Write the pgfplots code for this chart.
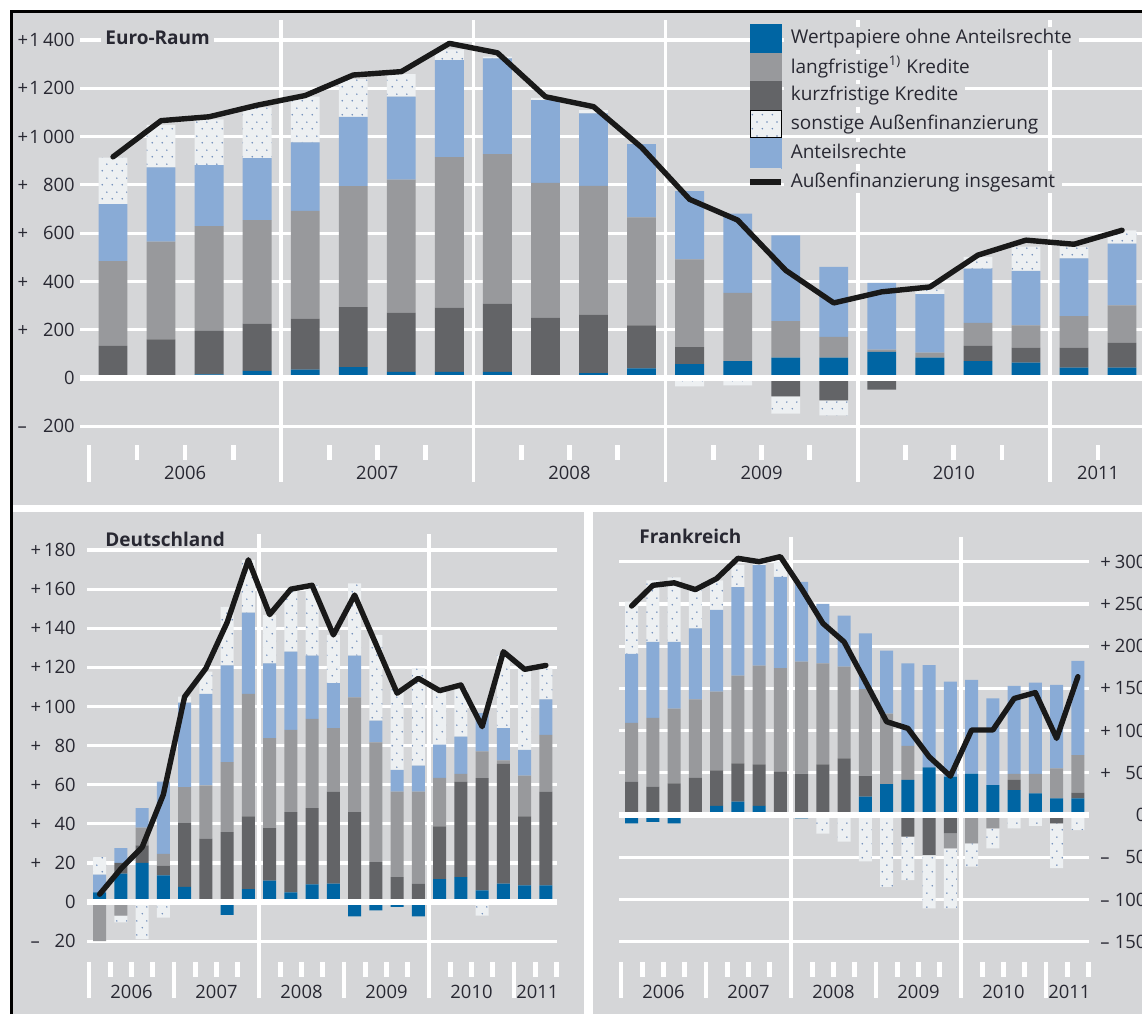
\documentclass[border=0pt]{standalone}
\usepackage{fontspec}
\setmainfont{Open Sans}
\usepackage{pgfplots}
\pgfplotsset{compat=1.18}
\usepackage{pgfplotstable}
\usetikzlibrary{patterns.meta}

\definecolor{bgcol}{RGB}{213,214,216}
\definecolor{wpcol}{RGB}{0,101,163}
\definecolor{lkcol}{RGB}{152,153,156}
\definecolor{kkcol}{RGB}{99,100,103}
\definecolor{arcol}{RGB}{137,171,214}
\definecolor{dotbg}{RGB}{237,240,242}
\definecolor{dotblue}{RGB}{110,140,185}
\definecolor{linecol}{RGB}{25,25,25}
\definecolor{textcol}{RGB}{40,40,50}

\pgfdeclarepattern{
  name=sdots,
  type=uncolored,
  bottom left={\pgfpoint{0pt}{0pt}},
  top right={\pgfpoint{5pt}{7pt}},
  tile size={\pgfpoint{5pt}{7pt}},
  code={
    \pgfpathcircle{\pgfpoint{1.25pt}{1.75pt}}{0.45pt}
    \pgfpathcircle{\pgfpoint{3.75pt}{5.25pt}}{0.45pt}
    \pgfusepath{fill}
  }
}

\newcommand{\tf}{\fontsize{9.2pt}{11pt}\selectfont}
\newcommand{\lf}{\fontsize{9.5pt}{11pt}\selectfont}
\newcommand{\ttf}{\bfseries\fontsize{9.5pt}{11pt}\selectfont}
\newcommand{\lp}[2]{\hbox to #1{+\hfill #2}}
\newcommand{\lm}[2]{\hbox to #1{–\hfill #2}}
\newcommand{\lz}[1]{\hbox to #1{\hfill 0}}

\pgfplotstableread{
q wp kk lk ar so tot
0 0 133 351 236 193 916
1 12 148 405 307 176 1066
2 15 180 434 253 189 1082
3 30 195 429 257 210 1130
4 35 211 446 284 189 1170
5 45 249 501 287 156 1255
6 25 246 551 343 94 1269
7 25 267 623 402 44 1386
8 25 283 619 397 7 1347
9 0 250 558 343 9 1165
10 20 243 533 300 14 1124
11 40 178 447 304 0 955
12 57 71 363 283 -35 740
13 70 0 283 328 -30 654
14 84 -76 152 355 -72 446
15 84 -93 86 290 -62 311
16 108 -48 10 276 0 357
17 84 0 21 242 20 377
18 70 63 95 225 49 509
19 64 62 92 226 100 571
20 43 83 130 239 48 554
21 43 103 155 256 55 612
}\tabEU

\pgfplotstableread{
q wp kk lk ar so tot
0 5 0 -20 9 9 4
1 14.5 5.5 -7 7.6 -3.4 17
2 20 9 9 10 -19 28
3 13.6 5 6 37 -8 55
4 7.7 32.7 18.4 43.2 3 105
5 0 32.4 27.2 46.8 11.4 119.5
6 -6.5 35.8 35.7 49.5 30 143
7 6.6 37.2 62.6 41.6 27 175
8 11 26.8 46 38.2 24.8 147
9 5 41 42 40 31.6 160
10 9 39 45.7 32.3 36 162
11 9.4 47.1 32.5 23 24.6 136.6
12 -7.3 46 58.7 21.3 37 157
13 -4.3 20.4 61.3 11.1 43.8 132
14 -2.5 12.8 43.7 11.1 41.7 106.8
15 -7.3 9.4 47.1 13.3 49.7 114.4
16 11.75 27 24.7 17 28.1 108.1
17 12.8 48.8 4 19 24.4 111
18 6 57.4 13.6 19.6 -7 89.7
19 9.4 61.3 1.7 16.6 37.4 128
20 8.5 35.3 20.9 13.1 42.6 119
21 8.5 48 29 18.2 15.8 121
}\tabDE

\pgfplotstableread{
q wp kk lk ar so tot
0 -10 39.5 69.5 81.7 62 247.5
1 -8 33.6 81.4 90 73 272
2 -10 37.5 88.5 79 76.5 275
3 0 44 93 84 45.5 267
4 10.7 42.3 93 97 35 280
5 15.8 45.2 104 105 26 304
6 10.7 49.3 117 119 4 300
7 0 51 123 108 18 306
8 -4 49 132.6 94.4 0 268
9 0 60 119.6 70.4 -22 227
10 0 67 108.7 60.3 -31.6 205
11 21.7 24.3 103 66 -55 158
12 36.7 0 83.3 74.6 -85 110.5
13 41.5 -25.7 40.5 97.6 -51.3 102.6
14 56.5 -47.4 0 121.1 -63.1 69
15 45.4 -21.7 -17.8 112.6 -71 46
16 49 0 -33.6 111 -27.4 100.7
17 35.5 0 -15.8 102.5 -23.7 100.7
18 29.6 11.9 7.1 104.2 -15.8 138
19 25.7 0 22.9 108.1 -13 145
20 19.7 -10 35.6 98.7 -53 90.8
21 19.7 6.8 44.5 111.4 -17.8 163.8
}\tabFR

\pgfplotsset{
  base/.style={scale only axis, anchor=south west, clip=false,
     axis line style={draw=none}, tick style={draw=none}, xtick=\empty},
  panelEU/.style={base, at={(40pt,-245.01pt)}, width=537.85pt, height=237.57pt,
     xmin=-0.687, xmax=21.7, ymin=-464, ymax=1504},
  panelDE/.style={base, at={(43.5pt,-499.9pt)}, width=234.75pt, height=232.7pt,
     xmin=-0.594, xmax=21.5, ymin=-50, ymax=188},
  panelFR/.style={base, at={(309.5pt,-499.95pt)}, width=234.75pt, height=231.6pt,
     xmin=-0.594, xmax=21.5, ymin=-219, ymax=329.6},
  wpS/.style={fill=wpcol, draw=none},
  kkS/.style={fill=kkcol, draw=none},
  lkS/.style={fill=lkcol, draw=none},
  arS/.style={fill=arcol, draw=none},
  soS/.style={fill=dotbg, draw=none, postaction={pattern=sdots, pattern color=dotblue}},
  gridS/.style={ymajorgrids, major grid style={white, line width=1.6pt}},
  totS/.style={linecol, line width=2.7pt, line join=round, line cap=round, mark=none},
}

\begin{document}
\begin{tikzpicture}
% backgrounds
\fill[white] (0pt,0pt) rectangle (571pt,-507pt);
\fill[bgcol] (6.3pt,-6.3pt) rectangle (571pt,-252.5pt);
\fill[bgcol] (6.3pt,-256pt) rectangle (292.2pt,-507pt);
\fill[bgcol] (296.4pt,-256pt) rectangle (571pt,-507pt);
\draw[black, line width=1.25pt] (5.65pt,-507pt) -- (5.65pt,-5.65pt) -- (571pt,-5.65pt);

%================ EURO-RAUM =================
\begin{axis}[panelEU, gridS, ybar stacked, bar width=0.6,
  ytick={-200,0,...,1400},
  yticklabels={\lm{28.5pt}{200},\lz{28.5pt},\lp{28.5pt}{200},\lp{28.5pt}{400},\lp{28.5pt}{600},\lp{28.5pt}{800},\lp{28.5pt}{1\,000},\lp{28.5pt}{1\,200},\lp{28.5pt}{1\,400}},
  yticklabel style={anchor=east, inner sep=0pt, xshift=-2.5pt, font=\tf, text=textcol},
]
\pgfplotsinvokeforeach{3.5,7.5,11.5,15.5,19.5}{\draw[white,line width=1.75pt] (axis cs:#1,1483) -- (axis cs:#1,-431);}
\draw[white,line width=1.75pt] (axis cs:-0.5,-277.5) -- (axis cs:-0.5,-431);
\pgfplotsinvokeforeach{0.5,1.5,2.5,4.5,5.5,6.5,8.5,9.5,10.5,12.5,13.5,14.5,16.5,17.5,18.5,20.5,21.5}{\draw[white,line width=2.4pt] (axis cs:#1,-277.5) -- (axis cs:#1,-340);}
\node[font=\tf,text=textcol] at (axis cs:1.5,-393.5) {2006};
\node[font=\tf,text=textcol] at (axis cs:5.5,-393.5) {2007};
\node[font=\tf,text=textcol] at (axis cs:9.5,-393.5) {2008};
\node[font=\tf,text=textcol] at (axis cs:13.5,-393.5) {2009};
\node[font=\tf,text=textcol] at (axis cs:17.5,-393.5) {2010};
\node[font=\tf,text=textcol] at (axis cs:20.5,-393.5) {2011};
\addplot[wpS] table[x=q, y expr={max(\thisrow{wp},0)}] {\tabEU};
\addplot[kkS] table[x=q, y expr={max(\thisrow{kk},0)}] {\tabEU};
\addplot[lkS] table[x=q, y expr={max(\thisrow{lk},0)}] {\tabEU};
\addplot[arS] table[x=q, y expr={max(\thisrow{ar},0)}] {\tabEU};
\addplot[soS] table[x=q, y expr={max(\thisrow{so},0)}] {\tabEU};
\end{axis}
\begin{axis}[panelEU, hide axis, ybar stacked, bar width=0.6]
\addplot[wpS] table[x=q, y expr={min(\thisrow{wp},0)}] {\tabEU};
\addplot[kkS] table[x=q, y expr={min(\thisrow{kk},0)}] {\tabEU};
\addplot[lkS] table[x=q, y expr={min(\thisrow{lk},0)}] {\tabEU};
\addplot[arS] table[x=q, y expr={min(\thisrow{ar},0)}] {\tabEU};
\addplot[soS] table[x=q, y expr={min(\thisrow{so},0)}] {\tabEU};
\end{axis}
\begin{axis}[panelEU, hide axis,
  legend cell align=left,
  legend style={at={(axis description cs:0.62006,0.98083)}, anchor=north west,
     draw=none, fill=none, inner sep=0pt, row sep=0pt, column sep=0pt,
     font=\lf,
     nodes={fill=bgcol, text=textcol, inner xsep=3.5pt, inner ysep=1pt, text depth=0.2em}},
]
\draw[white, line width=3pt] (axis cs:-0.687,0) -- (axis cs:21.7,0);
\addplot[totS, forget plot] table[x=q, y=tot] {\tabEU};
\addlegendimage{legend image code/.code={\fill[wpcol] (0pt,-6.9pt) rectangle (15.5pt,6.9pt);}}
\addlegendentry{Wertpapiere ohne Anteilsrechte}
\addlegendimage{legend image code/.code={\fill[lkcol] (0pt,-6.9pt) rectangle (15.5pt,6.9pt);}}
\addlegendentry{langfristige\textsuperscript{1)} Kredite}
\addlegendimage{legend image code/.code={\fill[kkcol] (0pt,-6.9pt) rectangle (15.5pt,6.9pt);}}
\addlegendentry{kurzfristige Kredite}
\addlegendimage{legend image code/.code={\fill[dotbg] (0pt,-6.9pt) rectangle (15.5pt,6.9pt); \fill[pattern=sdots, pattern color=dotblue] (0pt,-6.9pt) rectangle (15.5pt,6.9pt);}}
\addlegendentry{sonstige Außenfinanzierung}
\addlegendimage{legend image code/.code={\fill[arcol] (0pt,-7.4pt) rectangle (15.5pt,7.4pt);}}
\addlegendentry{Anteilsrechte}
\addlegendimage{legend image code/.code={\fill[bgcol,draw=none] (0pt,-6.9pt) rectangle (15.5pt,6.9pt); \draw[linecol, line width=2.7pt] (0pt,0pt) -- (15.5pt,0pt);}}
\addlegendentry{Außenfinanzierung insgesamt}
\end{axis}

%================ DEUTSCHLAND =================
\begin{axis}[panelDE, gridS, ybar stacked, bar width=0.62,
  ytick={-20,0,...,180},
  yticklabels={\lm{22.5pt}{20},\lz{22.5pt},\lp{22.5pt}{20},\lp{22.5pt}{40},\lp{22.5pt}{60},\lp{22.5pt}{80},\lp{22.5pt}{100},\lp{22.5pt}{120},\lp{22.5pt}{140},\lp{22.5pt}{160},\lp{22.5pt}{180}},
  yticklabel style={anchor=east, inner sep=0pt, xshift=-5.5pt, font=\tf, text=textcol},
]
\pgfplotsinvokeforeach{7.5,15.5}{\draw[white,line width=1.75pt] (axis cs:#1,188) -- (axis cs:#1,-49.1);}
\pgfplotsinvokeforeach{-0.5,3.5,11.5,19.5}{\draw[white,line width=1.75pt] (axis cs:#1,-30.7) -- (axis cs:#1,-49.1);}
\pgfplotsinvokeforeach{0.5,1.5,2.5,4.5,5.5,6.5,8.5,9.5,10.5,12.5,13.5,14.5,16.5,17.5,18.5,20.5,21.5}{\draw[white,line width=2.4pt] (axis cs:#1,-30.7) -- (axis cs:#1,-38.4);}
\node[font=\tf,text=textcol] at (axis cs:1.5,-46) {2006};
\node[font=\tf,text=textcol] at (axis cs:5.5,-46) {2007};
\node[font=\tf,text=textcol] at (axis cs:9.5,-46) {2008};
\node[font=\tf,text=textcol] at (axis cs:13.5,-46) {2009};
\node[font=\tf,text=textcol] at (axis cs:17.5,-46) {2010};
\node[font=\tf,text=textcol] at (axis cs:20.6,-46) {2011};
\addplot[wpS] table[x=q, y expr={max(\thisrow{wp},0)}] {\tabDE};
\addplot[kkS] table[x=q, y expr={max(\thisrow{kk},0)}] {\tabDE};
\addplot[lkS] table[x=q, y expr={max(\thisrow{lk},0)}] {\tabDE};
\addplot[arS] table[x=q, y expr={max(\thisrow{ar},0)}] {\tabDE};
\addplot[soS] table[x=q, y expr={max(\thisrow{so},0)}] {\tabDE};
\end{axis}
\begin{axis}[panelDE, hide axis, ybar stacked, bar width=0.62]
\addplot[wpS] table[x=q, y expr={min(\thisrow{wp},0)}] {\tabDE};
\addplot[kkS] table[x=q, y expr={min(\thisrow{kk},0)}] {\tabDE};
\addplot[lkS] table[x=q, y expr={min(\thisrow{lk},0)}] {\tabDE};
\addplot[arS] table[x=q, y expr={min(\thisrow{ar},0)}] {\tabDE};
\addplot[soS] table[x=q, y expr={min(\thisrow{so},0)}] {\tabDE};
\end{axis}
\begin{axis}[panelDE, hide axis]
\draw[white, line width=3pt] (axis cs:-0.594,0) -- (axis cs:21.5,0);
\addplot[totS] table[x=q, y=tot] {\tabDE};
\end{axis}

%================ FRANKREICH =================
\begin{axis}[panelFR, gridS, ybar stacked, bar width=0.62,
  ytick={-150,-100,...,300},
  yticklabel pos=right,
  yticklabels={\lm{23pt}{150},\lm{23pt}{100},\lm{23pt}{50},\lz{23pt},\lp{23pt}{50},\lp{23pt}{100},\lp{23pt}{150},\lp{23pt}{200},\lp{23pt}{250},\lp{23pt}{300}},
  yticklabel style={anchor=west, inner sep=0pt, xshift=5.75pt, font=\tf, text=textcol},
]
\pgfplotsinvokeforeach{7.5,15.5}{\draw[white,line width=1.75pt] (axis cs:#1,329.6) -- (axis cs:#1,-216.7);}
\pgfplotsinvokeforeach{-0.5,3.5,11.5,19.5}{\draw[white,line width=1.75pt] (axis cs:#1,-174.1) -- (axis cs:#1,-216.7);}
\pgfplotsinvokeforeach{0.5,1.5,2.5,4.5,5.5,6.5,8.5,9.5,10.5,12.5,13.5,14.5,16.5,17.5,18.5,20.5,21.5}{\draw[white,line width=2.4pt] (axis cs:#1,-174.1) -- (axis cs:#1,-191.9);}
\node[font=\tf,text=textcol] at (axis cs:1.5,-209.6) {2006};
\node[font=\tf,text=textcol] at (axis cs:5.5,-209.6) {2007};
\node[font=\tf,text=textcol] at (axis cs:9.5,-209.6) {2008};
\node[font=\tf,text=textcol] at (axis cs:13.5,-209.6) {2009};
\node[font=\tf,text=textcol] at (axis cs:17.5,-209.6) {2010};
\node[font=\tf,text=textcol] at (axis cs:20.6,-209.6) {2011};
\addplot[wpS] table[x=q, y expr={max(\thisrow{wp},0)}] {\tabFR};
\addplot[kkS] table[x=q, y expr={max(\thisrow{kk},0)}] {\tabFR};
\addplot[lkS] table[x=q, y expr={max(\thisrow{lk},0)}] {\tabFR};
\addplot[arS] table[x=q, y expr={max(\thisrow{ar},0)}] {\tabFR};
\addplot[soS] table[x=q, y expr={max(\thisrow{so},0)}] {\tabFR};
\end{axis}
\begin{axis}[panelFR, hide axis, ybar stacked, bar width=0.62]
\addplot[wpS] table[x=q, y expr={min(\thisrow{wp},0)}] {\tabFR};
\addplot[kkS] table[x=q, y expr={min(\thisrow{kk},0)}] {\tabFR};
\addplot[lkS] table[x=q, y expr={min(\thisrow{lk},0)}] {\tabFR};
\addplot[arS] table[x=q, y expr={min(\thisrow{ar},0)}] {\tabFR};
\addplot[soS] table[x=q, y expr={min(\thisrow{so},0)}] {\tabFR};
\end{axis}
\begin{axis}[panelFR, hide axis]
\draw[white, line width=3pt] (axis cs:-0.594,0) -- (axis cs:21.5,0);
\addplot[totS] table[x=q, y=tot] {\tabFR};
\end{axis}

% titles
\node[anchor=west, fill=bgcol, inner xsep=2pt, inner ysep=1pt, font=\ttf, text=textcol] at (50.5pt,-19pt) {Euro-Raum};
\node[anchor=west, inner sep=0pt, font=\ttf, text=textcol] at (52.5pt,-269.5pt) {Deutschland};
\node[anchor=west, inner sep=0pt, font=\ttf, text=textcol] at (319.5pt,-268.25pt) {Frankreich};

\pgfresetboundingbox
\path[use as bounding box] (0pt,0pt) rectangle (571pt,-507pt);
\end{tikzpicture}
\end{document}
